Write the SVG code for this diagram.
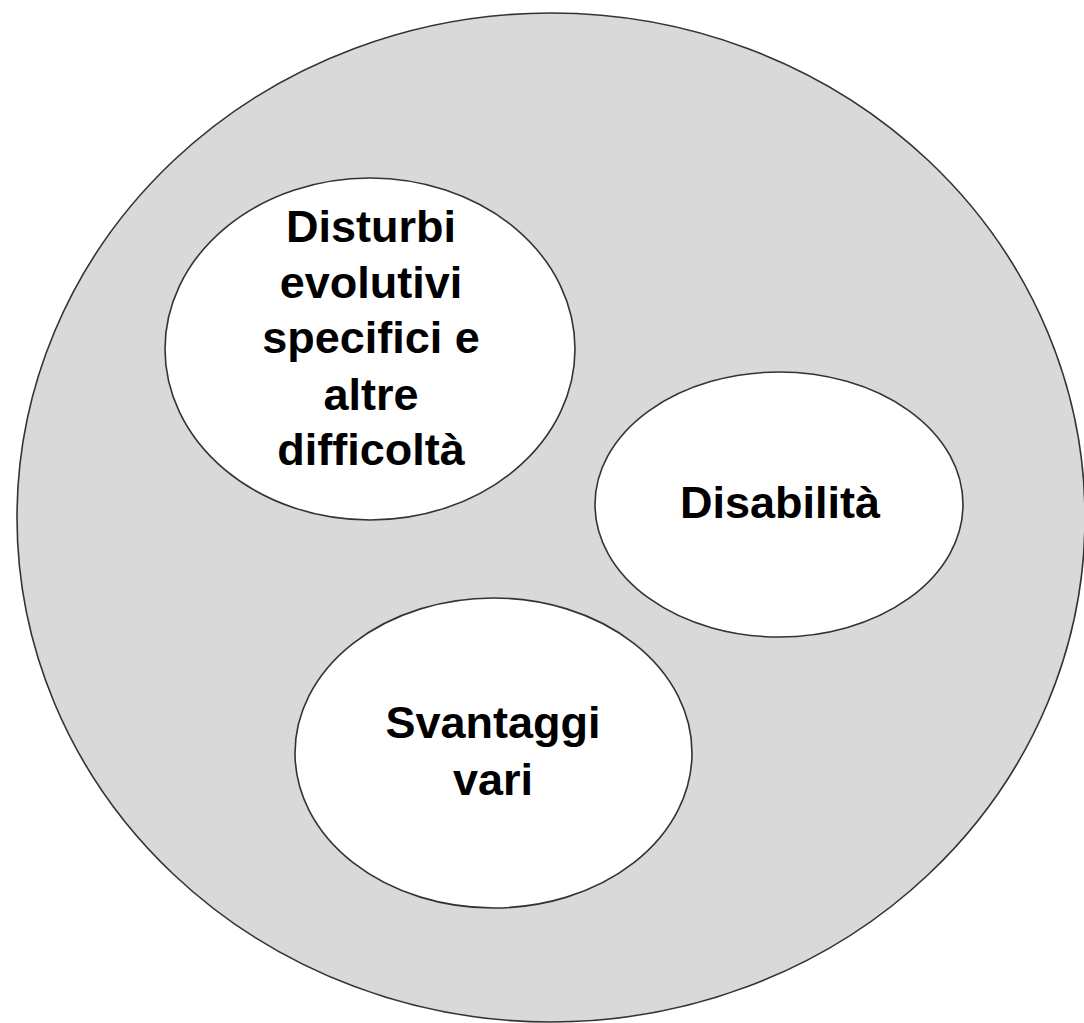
<svg xmlns="http://www.w3.org/2000/svg" width="1084" height="1023" viewBox="0 0 1084 1023">
<style>
.outer{fill:#d9d9d9;stroke:#333333;stroke-width:1.6}
.inner{fill:#ffffff;stroke:#333333;stroke-width:1.6}
.lbl{font-family:"Liberation Sans",Arial,sans-serif;font-weight:bold;font-size:45px;fill:#000;text-anchor:middle}
</style>
<rect width="1084" height="1023" fill="#ffffff"/>
<g id="outer"><ellipse class="outer" cx="551" cy="517.5" rx="534" ry="504.5"/></g>
<g id="connectors"></g>
<g id="disturbi">
<ellipse class="inner" cx="370" cy="349" rx="205" ry="171"/>
<text class="lbl" x="371" y="242">Disturbi</text>
<text class="lbl" x="371" y="298">evolutivi</text>
<text class="lbl" x="371" y="353">specifici e</text>
<text class="lbl" x="371" y="410">altre</text>
<text class="lbl" x="371" y="465">difficoltà</text>
</g>
<g id="disabilita">
<ellipse class="inner" cx="779" cy="504.5" rx="184" ry="132.5"/>
<text class="lbl" x="780" y="518">Disabilità</text>
</g>
<g id="svantaggi">
<ellipse class="inner" cx="493.5" cy="753" rx="198.5" ry="155"/>
<text class="lbl" x="493" y="738">Svantaggi</text>
<text class="lbl" x="493" y="795">vari</text>
</g>
</svg>
